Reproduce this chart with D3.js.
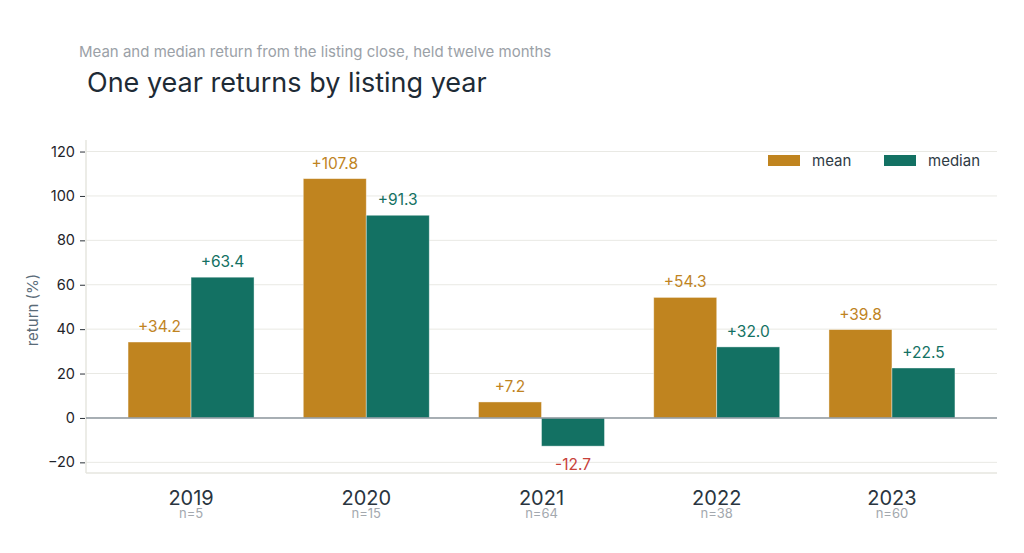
<!DOCTYPE html>
<html>
<head>
<meta charset="utf-8">
<script src="https://cdn.jsdelivr.net/npm/d3@7"></script>
<style>
  body { margin: 0; background: #fff; }
  svg text { font-family: Inter, "Noto Sans", sans-serif; }
</style>
</head>
<body>
<div id="chart"></div>
<script>
const years = ["2019", "2020", "2021", "2022", "2023"];
const counts = [5, 15, 64, 38, 60];
const meanReturns = [34.2, 107.8, 7.2, 54.3, 39.8];
const medianReturns = [63.4, 91.3, -12.7, 32.0, 22.5];
const seriesNames = ["mean", "median"];
const yTicks = [-20, 0, 20, 40, 60, 80, 100, 120];

const width = 1024, height = 553;
const margin = { top: 140, right: 27, bottom: 80, left: 86 };
const colors = { mean: "#c0841f", median: "#137163" };

const rows = years.map((y, i) => ({
  year: y, n: counts[i], mean: meanReturns[i], median: medianReturns[i]
}));

const svg = d3.select("#chart").append("svg")
  .attr("width", width).attr("height", height);

const x = d3.scaleBand()
  .domain(years)
  .range([margin.left, width - margin.right])
  .paddingInner(0.281)
  .paddingOuter(0.24);

const xInner = d3.scaleBand()
  .domain(seriesNames)
  .range([0, x.bandwidth()]);

const y = d3.scaleLinear()
  .domain([-24.8, 125.2])
  .range([height - margin.bottom, margin.top]);

// gridlines
svg.append("g")
  .selectAll("line")
  .data(yTicks)
  .join("line")
  .attr("x1", margin.left).attr("x2", width - margin.right)
  .attr("y1", d => y(d)).attr("y2", d => y(d))
  .attr("stroke", "#e9e9e4").attr("stroke-width", 1);

// spines
svg.append("line")
  .attr("x1", margin.left).attr("x2", margin.left)
  .attr("y1", margin.top).attr("y2", height - margin.bottom)
  .attr("stroke", "#e6e6df").attr("stroke-width", 1.5);
svg.append("line")
  .attr("x1", margin.left).attr("x2", width - margin.right)
  .attr("y1", height - margin.bottom).attr("y2", height - margin.bottom)
  .attr("stroke", "#e6e6df").attr("stroke-width", 1.5);

// y axis
const yAxis = svg.append("g")
  .attr("transform", `translate(${margin.left - 1},0)`)
  .call(d3.axisLeft(y).tickValues(yTicks).tickSize(5).tickPadding(5)
    .tickFormat(d => d < 0 ? "\u2212" + Math.abs(d) : d));
yAxis.select(".domain").remove();
yAxis.selectAll(".tick line").attr("stroke", "#2b3138");
yAxis.selectAll(".tick text")
  .attr("font-size", 14.5).attr("fill", "#1f242a");

svg.append("text")
  .attr("transform", `translate(38,310) rotate(-90)`)
  .attr("text-anchor", "middle")
  .attr("font-size", 15)
  .attr("fill", "#5a6b78")
  .text("return (%)");

// bars
const groups = svg.append("g")
  .selectAll("g")
  .data(rows)
  .join("g")
  .attr("transform", d => `translate(${x(d.year)},0)`);

groups.selectAll("rect")
  .data(d => seriesNames.map(k => ({ key: k, value: d[k] })))
  .join("rect")
  .attr("x", d => xInner(d.key))
  .attr("width", xInner.bandwidth())
  .attr("y", d => y(Math.max(0, d.value)))
  .attr("height", d => Math.abs(y(d.value) - y(0)))
  .attr("fill", d => colors[d.key])
  .attr("stroke", "#ffffff").attr("stroke-opacity", 0.5).attr("stroke-width", 0.8);

groups.selectAll("text.val")
  .data(d => seriesNames.map(k => ({ key: k, value: d[k] })))
  .join("text")
  .attr("class", "val")
  .attr("x", d => xInner(d.key) + xInner.bandwidth() / 2)
  .attr("y", d => d.value >= 0 ? y(d.value) - 10 : y(d.value) + 24)
  .attr("text-anchor", "middle")
  .attr("font-size", 15.5)
  .attr("fill", d => d.value < 0 ? "#c8413a" : colors[d.key])
  .text(d => (d.value >= 0 ? "+" : "-") + Math.abs(d.value).toFixed(1));

// zero line
svg.append("line")
  .attr("x1", margin.left).attr("x2", width - margin.right)
  .attr("y1", y(0)).attr("y2", y(0))
  .attr("stroke", "#8e979f").attr("stroke-width", 1.5);

// x labels (year with sample size underneath, tight like the reference)
const xLab = svg.append("g")
  .selectAll("g")
  .data(rows)
  .join("g")
  .attr("transform", d => `translate(${x(d.year) + x.bandwidth() / 2},0)`);
xLab.append("text")
  .attr("y", 505)
  .attr("text-anchor", "middle")
  .attr("font-size", 20)
  .attr("fill", "#2a3540")
  .text(d => d.year);
xLab.append("text")
  .attr("y", 518)
  .attr("text-anchor", "middle")
  .attr("font-size", 13)
  .attr("fill", "#a3a8ae")
  .text(d => "n=" + d.n);

// legend
const legend = svg.append("g")
  .selectAll("g")
  .data(seriesNames)
  .join("g")
  .attr("transform", (d, i) => `translate(${768 + i * 116},155)`);
legend.append("rect")
  .attr("width", 32).attr("height", 11)
  .attr("fill", d => colors[d]);
legend.append("text")
  .attr("x", 44).attr("y", 10.5)
  .attr("font-size", 15)
  .attr("fill", "#2f3b45")
  .text(d => d);

// titles
svg.append("text")
  .attr("x", 79).attr("y", 57)
  .attr("font-size", 15)
  .attr("fill", "#9ba1a7")
  .text("Mean and median return from the listing close, held twelve months");
svg.append("text")
  .attr("x", 87).attr("y", 92)
  .attr("font-size", 27)
  .attr("fill", "#1e2b36")
  .text("One year returns by listing year");
</script>
</body>
</html>
